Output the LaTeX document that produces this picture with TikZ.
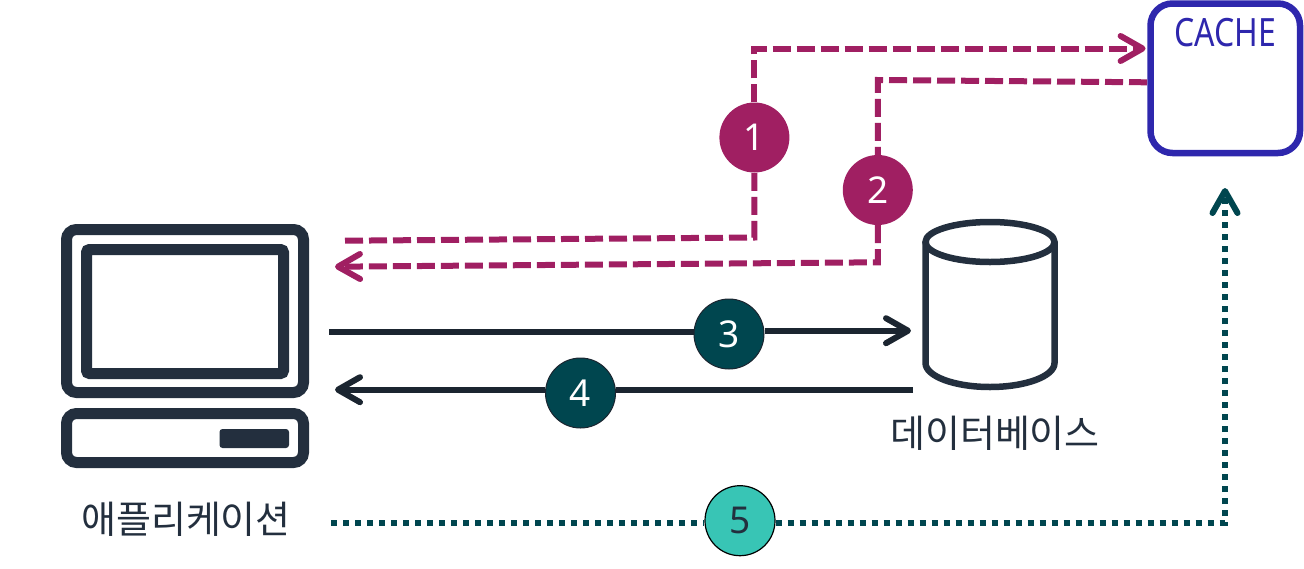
\documentclass[tikz,border=0pt]{standalone}
\usepackage{fontspec}
\setmainfont{Noto Sans}
\newfontfamily\krfont{Noto Sans CJK KR}
\newfontfamily\cachefont[FakeStretch=.82]{Noto Sans}
\usetikzlibrary{arrows.meta,positioning}
\definecolor{navy}{HTML}{232F3E}
\definecolor{inkline}{HTML}{1B2530}
\definecolor{plum}{HTML}{A01F62}
\definecolor{deepteal}{HTML}{00464F}
\definecolor{mint}{HTML}{38C5B5}
\definecolor{cacheblue}{HTML}{2E27AD}
\tikzset{
    icon/.style={draw=navy, line width=11pt, rounded corners=10pt, inner sep=0pt},
    badge/.style={circle, minimum size=70pt, inner sep=0pt, font=\fontsize{37}{40}\selectfont},
    label/.style={text=navy, inner sep=0pt, font=\krfont\fontsize{38}{40}\selectfont},
    plumflow/.style={plum, line width=6pt, dash pattern=on 18pt off 6pt},
    inkflow/.style={inkline, line width=6pt},
    dotflow/.style={deepteal, line width=6pt, dash pattern=on 6pt off 6pt},
    barb/.style={-{Straight Barb[length=22pt, width=25pt, round]}}
}
\begin{document}
\begin{tikzpicture}[x=1pt, y=-1pt]
    \useasboundingbox (0,0) rectangle (1304,568);
    \node[icon, minimum width=237pt, minimum height=163pt](monitor) at (185,311){};
    \node[icon, rounded corners=3pt, minimum width=197pt, minimum height=124pt](screen) at (185,311.5){};
    \node[icon, minimum width=237pt, minimum height=49pt](tower) at (185,438){};
    \node[fill=navy, rounded corners=3pt, inner sep=0pt, minimum width=69.5pt, minimum height=19pt](slot) at (254.25,438.5){};
    \node[label](app) at (186,519.5){애플리케이션};
    % database drum
    \draw[navy, line width=6.5pt] (990,242) ellipse [x radius=64.5, y radius=20];
    \draw[navy, line width=6.5pt] (925.5,242) -- (925.5,363) arc [start angle=180, end angle=0, x radius=64.5, y radius=24] -- (1054.5,242);
    \node[label](dbname) at (995,433){데이터베이스};
    \node[draw=cacheblue, line width=6.5pt, rounded corners=22pt, minimum width=149.5pt, minimum height=149.5pt](cache) at (1225.25,78.25){};
    \node[text=cacheblue, inner sep=0pt, font=\cachefont\fontsize{39}{40}\selectfont](cachename) at (1225,33){CACHE};
    \node[badge, fill=plum, text=white](one) at (754.4,137.5){1};
    \node[badge, fill=plum, text=white](two) at (877.8,190){2};
    \node[badge, fill=deepteal, draw=inkline, line width=1pt, text=white](three) at (729,334){3};
    \node[badge, fill=deepteal, draw=inkline, line width=1pt, text=white](four) at (580.5,393){4};
    \node[badge, fill=mint, draw=black, line width=1.2pt, text=navy](five) at (740,520.7){5};
    \coordinate (appone) at (345,240.7);
    \coordinate (cornerone) at (754.4,237.5);
    \coordinate (cacheone) at (1145.6,48.5);
    \coordinate (cachetwo) at (1147,82.3);
    \coordinate (turntwo) at (877.8,80);
    \coordinate (cornertwo) at (877.8,262.3);
    \coordinate (apptwo) at (335,266.7);
    \coordinate (appthree) at (329,332);
    \coordinate (dbthree) at (911,330.7);
    \coordinate (dbfour) at (913,389.7);
    \coordinate (appfour) at (335,389.7);
    \coordinate (appfive) at (331,522.7);
    \coordinate (cachefive) at (1225,188);
    \draw[plumflow] (appone) -- (cornerone) -- (one);
    \draw[plumflow, barb] (one) |- (cacheone);
    \draw[plumflow] (cachetwo) -- (turntwo) -- (two);
    \draw[plumflow, barb] (two) -- (cornertwo) -- (apptwo);
    \draw[inkflow] (appthree) -- (three.west |- appthree);
    \draw[inkflow, barb] (three.east |- dbthree) -- (dbthree);
    \draw[inkflow] (dbfour) -- (four.east |- dbfour);
    \draw[inkflow, barb] (four.west |- dbfour) -- (appfour);
    \draw[dotflow] (appfive) -- (five.west |- appfive);
    \draw[dotflow, barb] (five.east |- appfive) -| (cachefive);
\end{tikzpicture}
\end{document}
